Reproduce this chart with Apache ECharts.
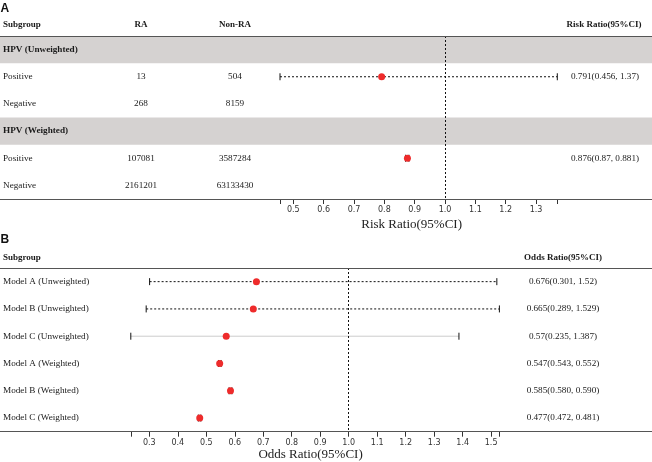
<!DOCTYPE html>
<html><head><meta charset="utf-8">
<script src="https://cdn.jsdelivr.net/npm/echarts@6/dist/echarts.min.js"></script>
<style>html,body{margin:0;padding:0;background:#fff}#c{width:652px;height:462px}</style>
</head><body><div id="c"></div>
<script>
// ---------- Panel A data ----------
const aSubgroups = ['HPV (Unweighted)', 'Positive', 'Negative', 'HPV (Weighted)', 'Positive', 'Negative'];
const aIsGroupRow = [true, false, false, true, false, false];
const aRA = ['', '13', '268', '', '107081', '2161201'];
const aNonRA = ['', '504', '8159', '', '3587284', '63133430'];
const aEst = [null, 0.791, null, null, 0.876, null];
const aLow = [null, 0.456, null, null, 0.87, null];
const aHigh = [null, 1.37, null, null, 0.881, null];
const aText = ['', '0.791(0.456, 1.37)', '', '', '0.876(0.87, 0.881)', ''];
const aTickLabels = [0.5, 0.6, 0.7, 0.8, 0.9, 1.0, 1.1, 1.2, 1.3];
const aAxisTitle = 'Risk Ratio(95%CI)';

// ---------- Panel B data ----------
const bSubgroups = ['Model A (Unweighted)', 'Model B (Unweighted)', 'Model C (Unweighted)',
  'Model A (Weighted)', 'Model B (Weighted)', 'Model C (Weighted)'];
const bEst = [0.676, 0.665, 0.57, 0.547, 0.585, 0.477];
const bLow = [0.301, 0.289, 0.235, 0.543, 0.580, 0.472];
const bHigh = [1.52, 1.529, 1.387, 0.552, 0.590, 0.481];
const bText = ['0.676(0.301, 1.52)', '0.665(0.289, 1.529)', '0.57(0.235, 1.387)',
  '0.547(0.543, 0.552)', '0.585(0.580, 0.590)', '0.477(0.472, 0.481)'];
const bTickLabels = [0.3, 0.4, 0.5, 0.6, 0.7, 0.8, 0.9, 1.0, 1.1, 1.2, 1.3, 1.4, 1.5];
const bAxisTitle = 'Odds Ratio(95%CI)';

// ---------- styles / layout ----------
const SERIF = '"Liberation Serif","Times New Roman",serif';
const SANS = '"DejaVu Sans",sans-serif';
const TXT = '#1a1a1a';
const BAND = '#d5d2d1';
const RULE = '#555555';
const DOT = '#ee2b2b';
const bSolidGrey = [false, false, true, false, false, false]; // line style per CI row in B

const chart = echarts.init(document.getElementById('c'), null, {renderer: 'canvas'});

function rows(n) { const r = []; for (let i = 0; i < n; i++) r.push([i]); return r; }
function extentOf(low, high) {
  const l = low.filter(v => v != null), h = high.filter(v => v != null);
  return [Math.min(...l), Math.max(...h)];
}

function tableRender(cols) {
  return function (params, api) {
    const r = api.value(0);
    const children = [];
    cols.forEach(c => {
      const t = c.values[r];
      if (!t) return;
      const p = api.coord([c.x, r]);
      children.push({
        type: 'text', x: p[0], y: p[1],
        style: {text: t, align: c.align, verticalAlign: 'middle', fill: TXT,
          font: (c.bold && c.bold[r] ? 'bold ' : '') + '9.2px ' + SERIF}
      });
    });
    return {type: 'group', children};
  };
}

function ciRender(solidFlags) {
  return function (params, api) {
    const r = api.value(0), lo = api.value(1), hi = api.value(2);
    const p1 = api.coord([lo, r]), p2 = api.coord([hi, r]);
    const solid = solidFlags && solidFlags[r];
    const ls = solid ? {stroke: '#cccccc', lineWidth: 1}
                     : {stroke: '#111', lineWidth: 1, lineDash: [2, 2]};
    const cap = {stroke: '#111', lineWidth: 1};
    return {type: 'group', children: [
      {type: 'line', shape: {x1: p1[0], y1: p1[1], x2: p2[0], y2: p2[1]}, style: ls},
      {type: 'line', shape: {x1: p1[0], y1: p1[1] - 3.5, x2: p1[0], y2: p1[1] + 3.5}, style: cap},
      {type: 'line', shape: {x1: p2[0], y1: p2[1] - 3.5, x2: p2[0], y2: p2[1] + 3.5}, style: cap}
    ]};
  };
}

const aExt = extentOf(aLow, aHigh);
const bExt = extentOf(bLow, bHigh);

function forestX(gridIndex, ext, labels, title, nameGap, namePad) {
  return {
    type: 'value', gridIndex, min: ext[0], max: ext[1], position: 'bottom',
    axisLine: {show: false, onZero: false},
    splitLine: {show: false},
    axisTick: {show: true, length: 5, customValues: [ext[0]].concat(labels, [ext[1]]),
      lineStyle: {color: '#333', width: 1}},
    axisLabel: {show: true, customValues: labels, margin: 7, fontSize: 8, fontFamily: SANS,
      color: '#333', formatter: v => Number(v).toFixed(1)},
    name: title, nameLocation: 'middle', nameGap: nameGap,
    nameTextStyle: {fontFamily: SERIF, fontSize: 13, color: '#222', padding: namePad}
  };
}
function tableX(gridIndex, pos) {
  return {type: 'value', gridIndex, min: 0, max: 652, position: pos, z: 6,
    axisLine: {show: true, onZero: false, lineStyle: {color: RULE, width: 1.2}},
    axisTick: {show: false}, axisLabel: {show: false}, splitLine: {show: false}};
}
function rowY(gridIndex) {
  return {type: 'value', gridIndex, min: -0.5, max: 5.5, inverse: true, show: false,
    axisLine: {onZero: false}, splitLine: {show: false}};
}

const topA = 36, hA = 163;
const topB = 268, hB = 163.7;

const option = {
  animation: false,
  backgroundColor: '#ffffff',
  grid: [
    {left: 0, right: 0, top: topA, height: hA},
    {left: 280, width: 277.3, top: topA, height: hA},
    {left: 0, right: 0, top: topB, height: hB},
    {left: 130.8, width: 368.6, top: topB, height: hB}
  ],
  xAxis: [
    tableX(0, 'bottom'), tableX(0, 'top'),
    forestX(1, aExt, aTickLabels, aAxisTitle, 19.5, [0, 14, 0, 0]),
    tableX(2, 'bottom'), tableX(2, 'top'),
    forestX(3, bExt, bTickLabels, bAxisTitle, 16, [0, 9, 0, 0])
  ],
  yAxis: [rowY(0), rowY(1), rowY(2), rowY(3)],
  graphic: [
    {type: 'text', x: 0.5, y: 8.5, style: {text: 'A', font: 'bold 12px "Liberation Sans",Arial,sans-serif', fill: '#111', verticalAlign: 'middle'}},
    {type: 'text', x: 3, y: 25, style: {text: 'Subgroup', font: 'bold 9px ' + SERIF, fill: TXT, verticalAlign: 'middle'}},
    {type: 'text', x: 141, y: 25, style: {text: 'RA', font: 'bold 9px ' + SERIF, fill: TXT, align: 'center', verticalAlign: 'middle'}},
    {type: 'text', x: 235, y: 25, style: {text: 'Non-RA', font: 'bold 9px ' + SERIF, fill: TXT, align: 'center', verticalAlign: 'middle'}},
    {type: 'text', x: 604, y: 25, style: {text: 'Risk Ratio(95%CI)', font: 'bold 9px ' + SERIF, fill: TXT, align: 'center', verticalAlign: 'middle'}},
    {type: 'text', x: 0.5, y: 239.5, style: {text: 'B', font: 'bold 12px "Liberation Sans",Arial,sans-serif', fill: '#111', verticalAlign: 'middle'}},
    {type: 'text', x: 3, y: 257.5, style: {text: 'Subgroup', font: 'bold 9px ' + SERIF, fill: TXT, verticalAlign: 'middle'}},
    {type: 'text', x: 563, y: 257.5, style: {text: 'Odds Ratio(95%CI)', font: 'bold 9px ' + SERIF, fill: TXT, align: 'center', verticalAlign: 'middle'}}
  ],
  series: [
    // Panel A bands
    {type: 'line', xAxisIndex: 0, yAxisIndex: 0, data: [], z: 0, silent: true,
      markArea: {silent: true, itemStyle: {color: BAND},
        data: aIsGroupRow.map((g, i) => g ? [{xAxis: 0, yAxis: i - 0.5}, {xAxis: 652, yAxis: i + 0.5}] : null).filter(Boolean)}},
    // Panel A table text
    {type: 'custom', xAxisIndex: 0, yAxisIndex: 0, z: 3, silent: true, data: rows(aSubgroups.length),
      renderItem: tableRender([
        {x: 3, align: 'left', values: aSubgroups, bold: aIsGroupRow},
        {x: 141, align: 'center', values: aRA},
        {x: 235, align: 'center', values: aNonRA},
        {x: 605, align: 'center', values: aText}
      ])},
    // Panel A CIs
    {type: 'custom', xAxisIndex: 2, yAxisIndex: 1, z: 4, silent: true, clip: false,
      data: aEst.map((e, i) => e == null ? null : [i, aLow[i], aHigh[i]]).filter(Boolean),
      encode: {x: [1, 2], y: 0},
      renderItem: ciRender(null),
      markLine: {silent: true, symbol: 'none', label: {show: false},
        lineStyle: {color: '#111', type: [2, 2], width: 1}, data: [{xAxis: 1}]}},
    // Panel A points
    {type: 'scatter', xAxisIndex: 2, yAxisIndex: 1, z: 5, symbolSize: 7, silent: true,
      itemStyle: {color: DOT, opacity: 1},
      data: aEst.map((e, i) => e == null ? null : [e, i]).filter(Boolean)},

    // Panel B table text
    {type: 'custom', xAxisIndex: 3, yAxisIndex: 2, z: 3, silent: true, data: rows(bSubgroups.length),
      renderItem: tableRender([
        {x: 3, align: 'left', values: bSubgroups},
        {x: 563, align: 'center', values: bText}
      ])},
    // Panel B CIs
    {type: 'custom', xAxisIndex: 5, yAxisIndex: 3, z: 4, silent: true, clip: false,
      data: bEst.map((e, i) => [i, bLow[i], bHigh[i]]),
      encode: {x: [1, 2], y: 0},
      renderItem: ciRender(bSolidGrey),
      markLine: {silent: true, symbol: 'none', label: {show: false},
        lineStyle: {color: '#111', type: [2, 2], width: 1}, data: [{xAxis: 1}]}},
    // Panel B points
    {type: 'scatter', xAxisIndex: 5, yAxisIndex: 3, z: 5, symbolSize: 7, silent: true,
      itemStyle: {color: DOT, opacity: 1},
      data: bEst.map((e, i) => [e, i])}
  ]
};
chart.setOption(option);
</script>
</body></html>
